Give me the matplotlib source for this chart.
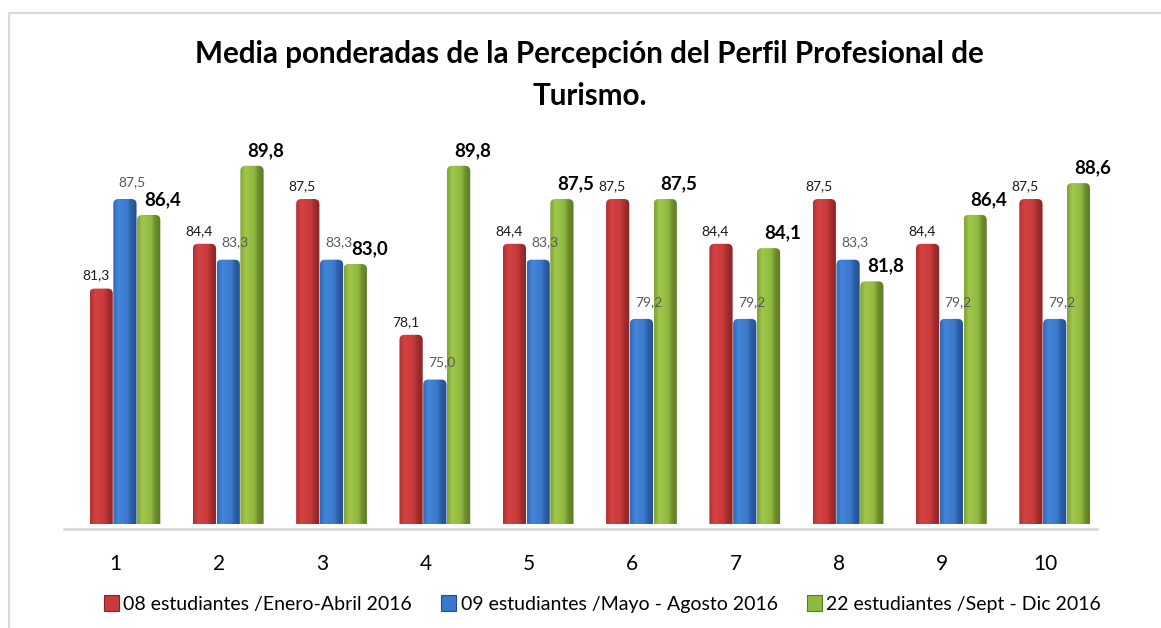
import numpy as np
import matplotlib.pyplot as plt
from matplotlib.colors import LinearSegmentedColormap
from matplotlib.patches import FancyBboxPatch, Patch

plt.rcParams['font.family'] = ['Lato', 'DejaVu Sans']

# Preguntas del cuestionario y medias ponderadas por grupo
preguntas = ['1', '2', '3', '4', '5', '6', '7', '8', '9', '10']
enero_abril = [81.3, 84.4, 87.5, 78.1, 84.4, 87.5, 84.4, 87.5, 84.4, 87.5]
mayo_agosto = [87.5, 83.3, 83.3, 75.0, 83.3, 79.2, 79.2, 83.3, 79.2, 79.2]
sept_dic = [86.4, 89.8, 83.0, 89.8, 87.5, 87.5, 84.1, 81.8, 86.4, 88.6]
grupos = ['08 estudiantes /Enero-Abril 2016',
          '09 estudiantes /Mayo - Agosto 2016',
          '22 estudiantes /Sept - Dic 2016']

titulo = 'Media ponderadas de la Percepción del Perfil Profesional de\nTurismo.'

# colores: borde izq, cara clara, cara, lateral, lateral oscuro
paletas = [
    ['#B03030', '#D44242', '#C93A3A', '#A52E2E', '#8A2424'],
    ['#2F69B8', '#4486D8', '#3A78CC', '#2D5FA8', '#244E8C'],
    ['#7FA236', '#A0C84A', '#8FB83F', '#6F8F2E', '#5C7826'],
]
y_min, y_max = 65, 92

fig = plt.figure(figsize=(11.61, 6.28), dpi=100)
ax = fig.add_axes([0.0551, 0.1656, 0.8898, 0.621])

x = np.arange(1, len(preguntas) + 1)
ancho = 0.225
desplaz = [-0.14, 0.09, 0.32]
series = [enero_abril, mayo_agosto, sept_dic]

grad = np.linspace(0, 1, 64).reshape(1, -1)
for serie, d, pal in zip(series, desplaz, paletas):
    cmap = LinearSegmentedColormap.from_list(
        'bar', list(zip([0, 0.22, 0.6, 0.76, 1.0], pal)))
    barras = ax.bar(x + d, serie, width=ancho, color=pal[2])
    for r in barras:
        x0, w, h = r.get_x(), r.get_width(), r.get_height()
        forma = FancyBboxPatch((x0, y_min - 1), w, h - (y_min - 1),
                               boxstyle='round,pad=0,rounding_size=0.05',
                               mutation_aspect=7.0, transform=ax.transData,
                               facecolor='none', edgecolor='none')
        ax.add_patch(forma)
        r.set_visible(False)
        img = ax.imshow(grad, cmap=cmap, aspect='auto', interpolation='bicubic',
                        extent=[x0, x0 + w, y_min - 1, h], zorder=2)
        img.set_clip_path(forma)

# etiquetas de datos
for xi, v in zip(x + desplaz[0], enero_abril):
    ax.annotate(f'{v:.1f}'.replace('.', ','), (xi, v), xytext=(-4, 5),
                textcoords='offset points', ha='center', va='bottom',
                fontsize=10, color='#1a1a1a', zorder=5)
for xi, v in zip(x + desplaz[1], mayo_agosto):
    ax.annotate(f'{v:.1f}'.replace('.', ','), (xi, v), xytext=(5, 8),
                textcoords='offset points', ha='center', va='bottom',
                fontsize=10, color='#595959', zorder=5)
for xi, v in zip(x + desplaz[2], sept_dic):
    ax.annotate(f'{v:.1f}'.replace('.', ','), (xi, v), xytext=(10, 5),
                textcoords='offset points', ha='center', va='bottom',
                fontsize=13.5, fontweight='bold', color='black', zorder=5)

ax.set_xlim(0.5, len(preguntas) + 0.5)
ax.set_ylim(y_min, y_max)
for s in ['top', 'right', 'left']:
    ax.spines[s].set_visible(False)
ax.spines['bottom'].set_color('#d9d9d9')
ax.spines['bottom'].set_linewidth(2)
ax.spines['bottom'].set_position(('data', y_min - 0.35))
ax.set_yticks([])
ax.set_xticks(x)
ax.set_xticklabels(preguntas, fontsize=15)
ax.tick_params(axis='x', length=0, pad=18)

fig.text(0.508, 0.880, titulo, ha='center', va='center', fontsize=21.3,
         fontweight='bold', linespacing=1.6)

# marco del gráfico
fig.add_artist(plt.Line2D([0.0075, 0.0075], [0, 0.979], color='#d9d9d9', lw=1.5))
fig.add_artist(plt.Line2D([0.0075, 1.0], [0.979, 0.979], color='#d9d9d9', lw=1.5))

handles = [Patch(facecolor=p[2], edgecolor=p[4], linewidth=0.8) for p in paletas]
fig.legend(handles, grupos, loc='center', bbox_to_anchor=(0.519, 0.038), ncol=3,
           frameon=False, fontsize=14, handlelength=0.75, handleheight=0.9,
           handletextpad=0.25, columnspacing=1.5)

fig.savefig('out.png', dpi=100)
